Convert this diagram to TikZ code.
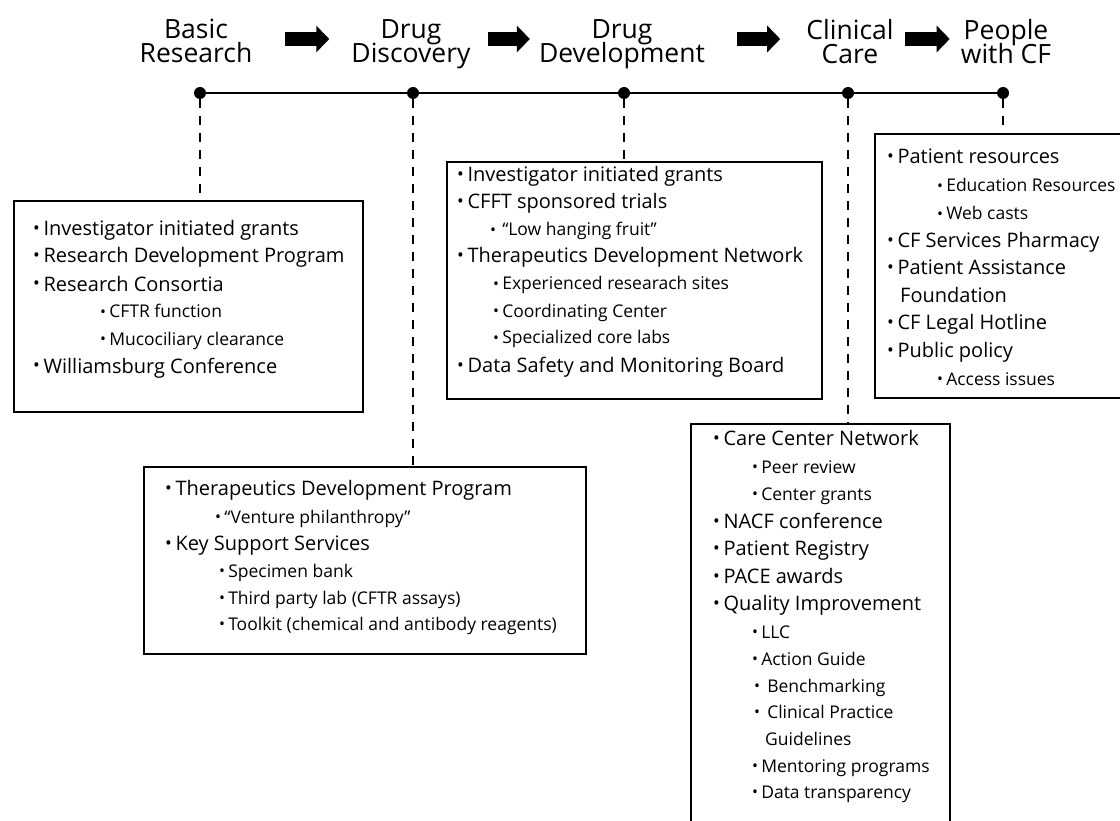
\documentclass[tikz,border=0pt]{standalone}
\usepackage{fontspec}
\setmainfont{Open Sans}
\usepackage{graphicx}
\usetikzlibrary{arrows.meta}

\newcommand{\bul}{\raisebox{0.05em}{\scalebox{0.9}{\textbullet}}\hspace{0.18em}}
\newcommand{\tightlines}{\lineskiplimit -20pt\relax}

\tikzset{
  stage/.style={align=center, inner sep=0pt, anchor=north,
    font=\fontsize{26.5}{24}\selectfont\tightlines},
  flow/.style={line width=14pt, -{Triangle[length=13pt,width=26pt]}},
  dot/.style={circle, fill, inner sep=0pt, minimum size=12pt},
  stagebox/.style={draw, line width=2pt, anchor=north west, inner sep=0pt},
  mainitem/.style={anchor=base west, inner sep=0pt, font=\fontsize{20}{24}\selectfont},
  subitem/.style={anchor=base west, inner sep=0pt, font=\fontsize{17.5}{20}\selectfont},
  link/.style={line width=2pt, dash pattern=on 9pt off 8pt},
}

\begin{document}
\begin{tikzpicture}[x=1pt, y=-1pt]
  \useasboundingbox (0,0) rectangle (1120,821);
  \clip (0,0) rectangle (1120,821);

  % stages
  \node[stage] (basic) at (196,19) {Basic\\Research};
  \node[stage] (disc) at (411,19) {Drug\\Discovery};
  \node[stage] (devel) at (622,19) {Drug\\Development};
  \node[stage] (clin) at (850,19) {Clinical\\Care};
  \node[stage] (people) at (1006,19) {People\\with CF};
  \draw[flow, shorten <=32pt, shorten >=22pt] (basic.east |- 0,39) -- (disc.west |- 0,39);
  \draw[flow, shorten <=17pt, shorten >=9pt] (disc.east |- 0,39) -- (devel.west |- 0,39);
  \draw[flow, shorten <=32pt, shorten >=26pt] (devel.east |- 0,39) -- (clin.west |- 0,39);
  \draw[flow, shorten <=11pt, shorten >=11pt] (clin.east |- 0,39) -- (people.west |- 0,39);

  % time line
  \node[dot] (d1) at (200,93) {};
  \node[dot] (d2) at (413,93) {};
  \node[dot] (d3) at (624,93) {};
  \node[dot] (d4) at (848,93) {};
  \node[dot] (d5) at (1003,93) {};
  \draw[line width=2.5pt] (d1) -- (d5);

  % boxes
  \node[stagebox, minimum width=349pt, minimum height=211pt] (bres) at (13,200) {};
  \node[stagebox, minimum width=442pt, minimum height=187pt] (bdisc) at (143,466) {};
  \node[stagebox, minimum width=375pt, minimum height=237pt] (bdev) at (446,161) {};
  \node[stagebox, minimum width=270pt, minimum height=264pt] (bpeople) at (874,133) {};
  \node[stagebox, minimum width=259pt, minimum height=420pt] (bclin) at (690,423) {};
  \draw[link] (d1) -- (d1 |- bres.north);
  \draw[link] (d2) -- (d2 |- bdisc.north);
  \draw[link] (d3) -- (d3 |- bdev.north);
  \draw[link] (d4) -- (d4 |- bclin.north);
  \draw[link] (d5) -- (d5 |- bpeople.north);

  % basic research
  \node[mainitem] (r1) at (33,236) {\bul Investigator initiated grants};
  \node[mainitem] (r2) at (33,263) {\bul Research Development Program};
  \node[mainitem] (r3) at (33,291) {\bul Research Consortia};
  \node[subitem] (r4) at (100,318) {\bul CFTR function};
  \node[subitem] (r5) at (100,345) {\bul Mucociliary clearance};
  \node[mainitem] (r6) at (33,373) {\bul Williamsburg Conference};

  % drug discovery
  \node[mainitem] (v1) at (165,495) {\bul Therapeutics Development Program};
  \node[subitem] (v2) at (215,523) {\bul “Venture philanthropy”};
  \node[mainitem] (v3) at (165,550) {\bul Key Support Services};
  \node[subitem] (v4) at (219,577) {\bul Specimen bank};
  \node[subitem] (v5) at (219,604) {\bul Third party lab (CFTR assays)};
  \node[subitem] (v6) at (219,630) {\bul Toolkit (chemical and antibody reagents)};

  % drug development
  \node[mainitem] (p1) at (457,182) {\bul Investigator initiated grants};
  \node[mainitem] (p2) at (457,209) {\bul CFFT sponsored trials};
  \node[subitem] (p3) at (490,236) {\bul\hspace{3pt}“Low hanging fruit”};
  \node[mainitem] (p4) at (457,263) {\bul Therapeutics Development Network};
  \node[subitem] (p5) at (493,290) {\bul Experienced researach sites};
  \node[subitem] (p6) at (493,317) {\bul Coordinating Center};
  \node[subitem] (p7) at (493,344) {\bul Specialized core labs};
  \node[mainitem] (p8) at (457,372) {\bul Data Safety and Monitoring Board};

  % people with CF
  \node[mainitem] (c1) at (887,164) {\bul Patient resources};
  \node[subitem] (c2) at (937,192) {\bul Education Resources};
  \node[subitem] (c3) at (937,220) {\bul Web casts};
  \node[mainitem] (c4) at (887,248) {\bul CF Services Pharmacy};
  \node[mainitem] (c5) at (887,275) {\bul Patient Assistance};
  \node[mainitem] (c6) at (900,303) {Foundation};
  \node[mainitem] (c7) at (887,330) {\bul CF Legal Hotline};
  \node[mainitem] (c8) at (887,357) {\bul Public policy};
  \node[subitem] (c9) at (937,385) {\bul Access issues};

  % clinical care
  \node[mainitem] (k1) at (713,445) {\bul Care Center Network};
  \node[subitem] (k2) at (752,473) {\bul Peer review};
  \node[subitem] (k3) at (752,500) {\bul Center grants};
  \node[mainitem] (k4) at (713,528) {\bul NACF conference};
  \node[mainitem] (k5) at (713,555) {\bul Patient Registry};
  \node[mainitem] (k6) at (713,583) {\bul PACE awards};
  \node[mainitem] (k7) at (713,610) {\bul Quality Improvement};
  \node[subitem] (k8) at (752,638) {\bul LLC};
  \node[subitem] (k9) at (752,665) {\bul Action Guide};
  \node[subitem] (k10) at (754,692) {\bul\hspace{4pt}Benchmarking};
  \node[subitem] (k11) at (754,718) {\bul\hspace{4pt}Clinical Practice};
  \node[subitem] (k12) at (765,745) {Guidelines};
  \node[subitem] (k13) at (752,772) {\bul Mentoring programs};
  \node[subitem] (k14) at (752,798) {\bul Data transparency};
\end{tikzpicture}
\end{document}
